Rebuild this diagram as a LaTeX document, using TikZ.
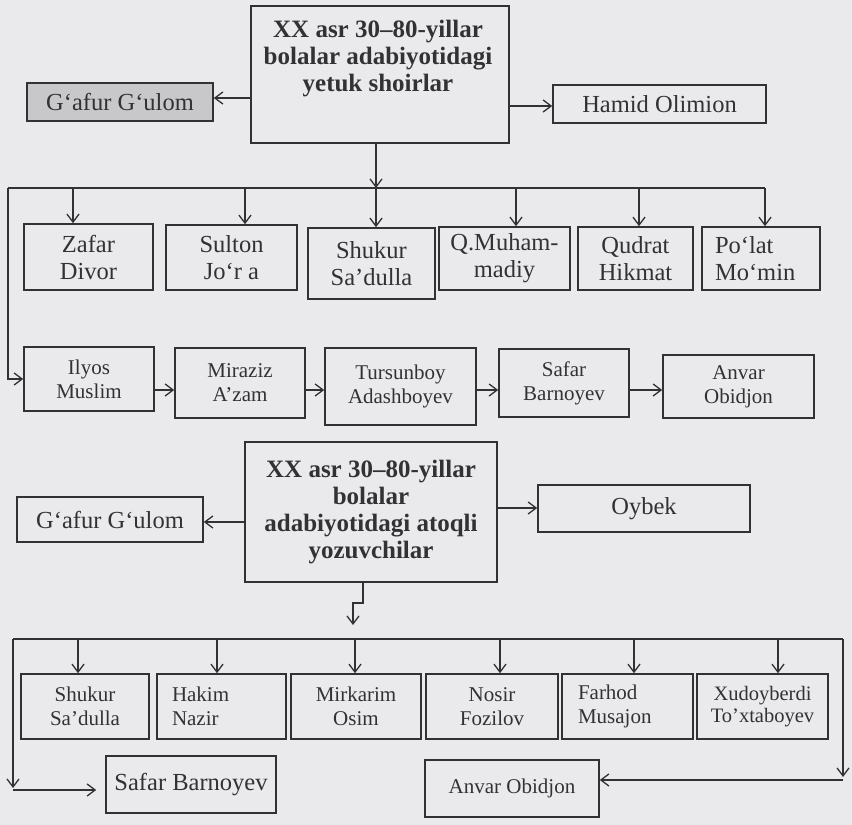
\documentclass[tikz,border=0pt]{standalone}
\usepackage{fontspec}
\setmainfont{Liberation Serif}
\usetikzlibrary{arrows.meta}
\definecolor{paper}{RGB}{234,234,236}
\definecolor{ink}{RGB}{50,50,52}
\definecolor{shade}{RGB}{200,200,202}
\tikzset{
  box/.style={draw=ink, line width=1.6pt, inner sep=0pt, text=ink, align=center},
  ln/.style={draw=ink, line width=1.3pt},
  arr/.style={draw=ink, line width=1.3pt, -{Straight Barb[length=8pt,width=12pt,line width=1.3pt]}},
  big/.style={font=\fontsize{24.5}{27}\selectfont},
  mid/.style={font=\fontsize{21}{24}\selectfont},
  sml/.style={font=\fontsize{20.5}{22.5}\selectfont},
  ttl/.style={font=\fontsize{25}{27}\selectfont\bfseries},
}
\begin{document}
\begin{tikzpicture}[x=1pt,y=-1pt]
\fill[paper] (0,0) rectangle (852,825);
\useasboundingbox (0,0) rectangle (852,825);

% ---------- block 1 ----------
\node[box, minimum width=258pt, minimum height=137pt] (T1) at (380,74.5) {};
\node[ttl, text=ink, align=center, inner sep=0pt] (T1t) at (378,58.5)
  {XX asr 30--80-yillar\\bolalar adabiyotidagi\\yetuk shoirlar};
\node[box, big, fill=shade, minimum width=186pt, minimum height=38pt] (G1) at (120,102) {G‘afur G‘ulom};
\node[box, big, minimum width=213pt, minimum height=38pt] (H1) at (659.5,104) {Hamid Olimion};

\node[box, big, minimum width=129pt, minimum height=66pt] (Z) at (88.5,257) {Zafar\\Divor};
\node[box, big, minimum width=131pt, minimum height=65pt] (S) at (231.5,257.5) {Sulton\\Jo‘r a};
\node[box, big, minimum width=127pt, minimum height=71pt] (Sh) at (371.5,263.5) {Shukur\\Sa’dulla};
\node[box, big, minimum width=131pt, minimum height=63pt] (Q) at (504.5,258.5) {Q.Muham-\\madiy};
\node[box, big, minimum width=115pt, minimum height=63pt] (Qu) at (635.5,258.5) {Qudrat\\Hikmat};
\node[box, big, align=left, text width=92pt, inner xsep=13pt, minimum height=63pt] (P) at (761,258.5) {Po‘lat\\Mo‘min};

\node[box, mid, minimum width=130pt, minimum height=64pt] (I) at (89,379) {Ilyos\\Muslim};
\node[box, mid, minimum width=130pt, minimum height=70pt] (M) at (240,383) {Miraziz\\A’zam};
\node[box, mid, minimum width=151pt, minimum height=77pt] (Tu) at (400.5,386.5) {Tursunboy\\Adashboyev};
\node[box, mid, minimum width=130pt, minimum height=68pt] (Sa) at (564,383) {Safar\\Barnoyev};
\node[box, mid, minimum width=151pt, minimum height=63pt] (An) at (738.5,386.5) {Anvar\\Obidjon};

% ---------- block 2 ----------
\node[box, ttl, minimum width=252pt, minimum height=140pt] (T2) at (371,512)
  {XX asr 30--80-yillar\\bolalar\\adabiyotidagi atoqli\\yozuvchilar};
\node[box, big, minimum width=186pt, minimum height=45pt] (G2) at (110,519.5) {G‘afur G‘ulom};
\node[box, big, minimum width=212pt, minimum height=47pt] (O) at (644,508.5) {Oybek};

\node[box, mid, minimum width=128pt, minimum height=65pt] (B1) at (85,706.5) {Shukur\\Sa’dulla};
\node[box, mid, align=left, text width=99pt, inner xsep=15pt, minimum height=65pt] (B2) at (221.5,706.5) {Hakim\\Nazir};
\node[box, mid, minimum width=130pt, minimum height=65pt] (B3) at (356,706.5) {Mirkarim\\Osim};
\node[box, mid, minimum width=132pt, minimum height=65pt] (B4) at (492,706.5) {Nosir\\Fozilov};
\node[box, mid, align=left, text width=99pt, inner xsep=16pt, minimum height=65pt] (B5) at (627.5,706.5) {Farhod\\Musajon};
\node[box, sml, minimum width=131pt, minimum height=65pt] (B6) at (762.5,706.5) {Xudoyberdi\\To'xtaboyev};

\node[box, big, minimum width=170pt, minimum height=57pt] (SB) at (191,784.5) {Safar Barnoyev};
\node[box, mid, minimum width=174pt, minimum height=57pt] (AO) at (512,788.5) {Anvar Obidjon};

% ---------- connectors block 1 ----------
\coordinate (a1) at (0,98);
\coordinate (a2) at (0,106);
\draw[arr] (T1.west |- a1) -- (G1.east |- a1);
\draw[arr] (T1.east |- a2) -- (H1.west |- a2);

\coordinate (b1L) at (8,188);
\coordinate (b1R) at (765,188);
\draw[ln] (b1L) -- (b1R);
\coordinate (dT1) at (376,0);
\draw[arr] (T1.south -| dT1) -- (dT1 |- b1L);
\coordinate (d1) at (73,188);
\coordinate (d2) at (245,188);
\coordinate (d3) at (376,188);
\coordinate (d4) at (516,188);
\coordinate (d5) at (639,188);
\coordinate (d6) at (765,188);
\draw[arr] (d1) -- (d1 |- Z.north);
\draw[arr] (d2) -- (d2 |- S.north);
\draw[arr] (d3) -- (d3 |- Sh.north);
\draw[arr] (d4) -- (d4 |- Q.north);
\draw[arr] (d5) -- (d5 |- Qu.north);
\draw[arr] (d6) -- (d6 |- P.north);

\draw[arr] (b1L) |- (I.west);
\coordinate (a3) at (0,390);
\draw[arr] (I.east |- a3) -- (M.west |- a3);
\draw[arr] (M.east |- a3) -- (Tu.west |- a3);
\draw[arr] (Tu.east |- a3) -- (Sa.west |- a3);
\draw[arr] (Sa.east |- a3) -- (An.west |- a3);

% ---------- connectors block 2 ----------
\coordinate (a4) at (0,522);
\coordinate (a5) at (0,508);
\draw[arr] (T2.west |- a4) -- (G2.east |- a4);
\draw[arr] (T2.east |- a5) -- (O.west |- a5);

\coordinate (j1) at (363,603);
\coordinate (j2) at (353,603);
\coordinate (j3) at (353,625);
\draw[arr] (T2.south -| j1) -- (j1) -- (j2) -- (j3);

\coordinate (b2L) at (13,639);
\coordinate (b2R) at (843,639);
\draw[ln] (b2L) -- (b2R);
\coordinate (e1) at (78,639);
\coordinate (e2) at (217,639);
\coordinate (e3) at (355,639);
\coordinate (e4) at (500,639);
\coordinate (e5) at (634,639);
\coordinate (e6) at (778,639);
\draw[arr] (e1) -- (e1 |- B1.north);
\draw[arr] (e2) -- (e2 |- B2.north);
\draw[arr] (e3) -- (e3 |- B3.north);
\draw[arr] (e4) -- (e4 |- B4.north);
\draw[arr] (e5) -- (e5 |- B5.north);
\draw[arr] (e6) -- (e6 |- B6.north);

\coordinate (cL1) at (13,788);
\coordinate (cL2) at (13,790);
\draw[arr] (b2L) -- (cL1);
\draw[arr, shorten >=9pt] (cL2) -- (SB.west |- cL2);
\coordinate (cR1) at (843,777);
\coordinate (cR2) at (843,780);
\draw[arr] (b2R) -- (cR1);
\draw[arr] (cR2) -- (AO.east |- cR2);
\end{tikzpicture}
\end{document}
